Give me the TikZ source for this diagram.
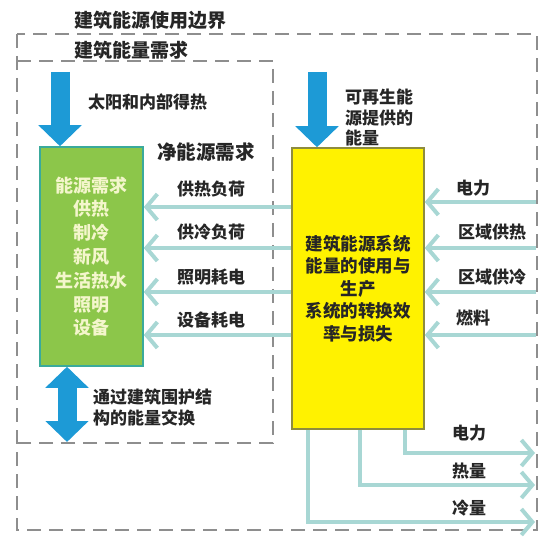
\documentclass[tikz,border=0pt]{standalone}
\usepackage{fontspec}
\newfontfamily\cjk{Noto Sans CJK SC}
\usetikzlibrary{arrows.meta}
\definecolor{boundgray}{HTML}{8E8E8E}
\definecolor{flowteal}{HTML}{A8D7D4}
\definecolor{solarblue}{HTML}{1D9AD6}
\definecolor{demandgreen}{HTML}{8CC64A}
\definecolor{demandedge}{HTML}{3AAA9C}
\definecolor{systemedge}{HTML}{8E8C3E}
\definecolor{demandtext}{HTML}{F4F6CC}

\begin{document}
\begin{tikzpicture}[x=1pt, y=-1pt,
    font=\cjk\bfseries\fontsize{17}{21}\selectfont,
    bound/.style={draw=boundgray, line width=1.8pt, dash pattern=on 14pt off 8pt},
    flow/.style={draw=flowteal, line width=4pt, -{Straight Barb[length=11pt, width=26pt]}},
    bigarrow/.style={draw=solarblue, line width=19pt, -{Triangle[length=21pt, width=42pt]}},
    lbl/.style={text=black!85, inner sep=0pt}]

      \useasboundingbox (0, 0) rectangle (554, 537);

      % boundaries
      \draw[bound] (17, 34) rectangle (537, 530);
      \draw[bound] (17, 61) -- (273, 61) -- (273, 443) -- (17, 443);
      \node[lbl, anchor = west, font = \cjk\bfseries\fontsize{19}{22}\selectfont] (usetitle) at (74, 20) {建筑能源使用边界};
      \node[lbl, anchor = west, font = \cjk\bfseries\fontsize{19}{22}\selectfont] (needtitle) at (74, 50) {建筑能量需求};

      % boxes
      \node[fill = demandgreen, draw = demandedge, line width = 1.5pt, minimum width = 103pt, minimum height = 219pt,
        text = demandtext, align = center, font = \cjk\bfseries\fontsize{18}{23.8}\selectfont]
        (demand) at (91.5, 256.5) {能源需求\\供热\\制冷\\新风\\生活热水\\照明\\设备};
      \node[fill = yellow, draw = systemedge, line width = 1.5pt, minimum width = 132pt, minimum height = 281pt,
        text = black!85, align = center, font = \cjk\bfseries\fontsize{17.5}{22.5}\selectfont]
        (system) at (358, 288.5) {建筑能源系统\\能量的使用与\\生产\\系统的转换效\\率与损失};

      % blue arrows
      \coordinate (sunin) at (60, 72);
      \draw[bigarrow] (sunin) -- (sunin |- demand.north);
      \node[lbl, anchor = west] (sunlabel) at (88, 102) {太阳和内部得热};
      \coordinate (renewin) at (317, 72);
      \draw[bigarrow] (renewin) -- (renewin |- system.north);
      \node[lbl, anchor = west, align = left, font = \cjk\bfseries\fontsize{17}{20.5}\selectfont]
        (renewlabel) at (345, 118) {可再生能\\源提供的\\能量};
      \coordinate (envout) at (67, 442);
      \draw[bigarrow, {Triangle[length=21pt, width=42pt]}-{Triangle[length=21pt, width=42pt]}]
        (envout) -- (envout |- demand.south);
      \node[lbl, anchor = west, align = left, font = \cjk\bfseries\fontsize{17}{21}\selectfont]
        (envlabel) at (93, 407) {通过建筑围护结\\构的能量交换};

      % net demand
      \node[lbl, anchor = west, font = \cjk\bfseries\fontsize{19.5}{22}\selectfont] (netlabel) at (157, 152) {净能源需求};
      \coordinate (heatrow) at (0, 207);
      \coordinate (coolrow) at (0, 248);
      \coordinate (lightrow) at (0, 292);
      \coordinate (plugrow) at (0, 335);
      \draw[flow] (system.west |- heatrow) -- (demand.east |- heatrow);
      \draw[flow] (system.west |- coolrow) -- (demand.east |- coolrow);
      \draw[flow] (system.west |- lightrow) -- (demand.east |- lightrow);
      \draw[flow] (system.west |- plugrow) -- (demand.east |- plugrow);
      \node[lbl] (heatload) at (211, 189) {供热负荷};
      \node[lbl] (coolload) at (211, 232) {供冷负荷};
      \node[lbl] (lightload) at (211, 277) {照明耗电};
      \node[lbl] (plugload) at (211, 320) {设备耗电};

      % delivered energy
      \coordinate (gridin) at (536, 202);
      \coordinate (dheatin) at (536, 248);
      \coordinate (dcoolin) at (536, 292);
      \coordinate (fuelin) at (536, 335);
      \draw[flow] (gridin) -- (system.east |- gridin);
      \draw[flow] (dheatin) -- (system.east |- dheatin);
      \draw[flow] (dcoolin) -- (system.east |- dcoolin);
      \draw[flow] (fuelin) -- (system.east |- fuelin);
      \node[lbl, anchor = west] (gridlabel) at (456, 188) {电力};
      \node[lbl, anchor = west] (dheatlabel) at (458, 232) {区域供热};
      \node[lbl, anchor = west] (dcoollabel) at (458, 277) {区域供冷};
      \node[lbl, anchor = west] (fuellabel) at (456, 318) {燃料};

      % exported energy
      \coordinate (elecout) at (535, 453);
      \coordinate (heatout) at (535, 485);
      \coordinate (coldout) at (535, 522);
      \draw[flow] ([xshift = 47pt] system.south) |- (elecout);
      \draw[flow] ([xshift = 2pt] system.south) |- (heatout);
      \draw[flow] ([xshift = -50pt] system.south) |- (coldout);
      \node[lbl, anchor = west] (eleclabel) at (452, 433) {电力};
      \node[lbl, anchor = west] (heatlabel) at (452, 471) {热量};
      \node[lbl, anchor = west] (coldlabel) at (452, 508) {冷量};

    \end{tikzpicture}
\end{document}
